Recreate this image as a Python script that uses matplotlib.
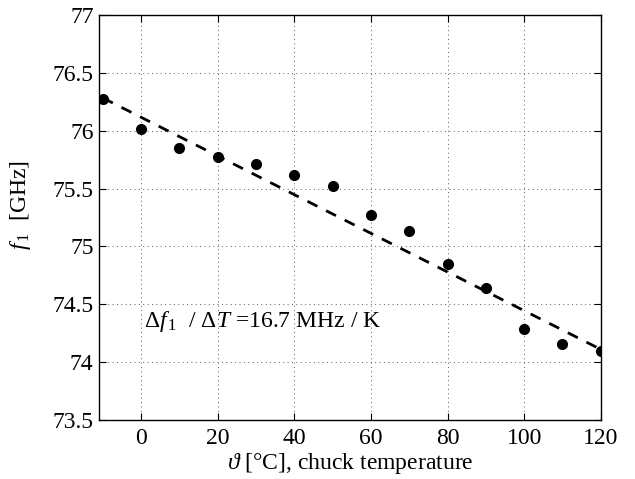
import numpy as np
import matplotlib.pyplot as plt

plt.rcParams['font.family'] = ['Liberation Serif', 'DejaVu Serif']
plt.rcParams['mathtext.fontset'] = 'custom'
plt.rcParams['mathtext.rm'] = 'Liberation Serif'
plt.rcParams['mathtext.it'] = 'Liberation Serif:italic'

# chuck temperature [°C] and measured f1 [GHz]
temps = [-10, 0, 10, 20, 30, 40, 50, 60, 70, 80, 90, 100, 110, 120]
f1 = [76.27, 76.01, 75.85, 75.77, 75.71, 75.62, 75.52, 75.27, 75.13,
      74.85, 74.64, 74.29, 74.16, 74.10]
# linear fit: slope -16.7 MHz/K, value at 0 °C
fit_slope = -0.0167
fit_f0 = 76.115
xticks = [0, 20, 40, 60, 80, 100, 120]
yticks = [73.5, 74, 74.5, 75, 75.5, 76, 76.5, 77]

fs = 17
fig = plt.figure(figsize=(6.35, 4.79), dpi=100)
ax = fig.add_axes([0.156, 0.123, 0.79, 0.846])

xl = np.array([temps[0], temps[-1]])
ax.plot(xl, fit_f0 + fit_slope * xl, 'k--', lw=2, dashes=(4, 3.5))
ax.plot(temps, f1, 'ko', ms=7)

ax.set_xlim(-11, 120)
ax.set_ylim(73.5, 77)
ax.set_xticks(xticks)
ax.set_yticks(yticks)
ax.set_yticklabels(['%g' % v for v in yticks])
ax.grid(True, color='0.35', lw=0.7, dashes=(1, 3.5))
ax.tick_params(direction='in', top=True, right=True, labelsize=fs, length=5)
ax.tick_params(axis='x', pad=6)
ax.tick_params(axis='y', pad=4)
for s in ax.spines.values():
    s.set_linewidth(1.0)

ax.set_xlabel(r'$\vartheta$ [°C], chuck temperature', fontsize=fs, labelpad=1)
ax.set_ylabel(r'$f_{\,1}$  [GHz]', fontsize=fs)
ax.yaxis.set_label_coords(-0.131, 0.53)
ax.text(0.8, 74.35, r'$\Delta f_{\,1}$  / $\Delta T$ =16.7 MHz / K', fontsize=fs,
        va='center')

fig.savefig('out.png', dpi=100)
